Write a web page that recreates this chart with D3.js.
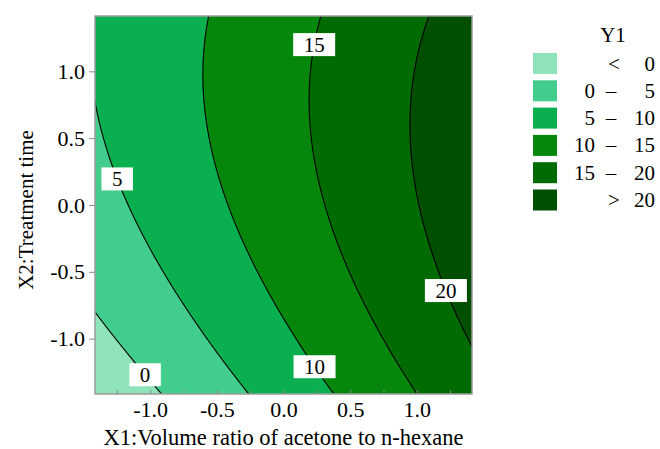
<!DOCTYPE html>
<html>
<head>
<meta charset="utf-8">
<script src="https://cdn.jsdelivr.net/npm/d3@7"></script>
<style>
  html, body { margin: 0; padding: 0; background: #fff; }
  svg { display: block; font-family: "Liberation Serif", "Times New Roman", serif; }
</style>
</head>
<body>
<svg id="chart" width="660" height="449"></svg>
<script>
// Second-order response surface for Y1 in coded units:
// Y1 = b0 + b1*X1 + b2*X2 + b12*X1*X2 + b11*X1^2 + b22*X2^2
const termNames = ["b0", "b1 (X1)", "b2 (X2)", "b12 (X1*X2)", "b11 (X1^2)", "b22 (X2^2)"];
const termCoefs = [12.85, 6.9, 2.22, -0.65, 0.14, -1.34];

// Contour levels and band colours (lowest band first)
const levels = [0, 5, 10, 15, 20];
const bandColors = ["#8ee4b8", "#42cd8c", "#0ab04f", "#05870b", "#006b00", "#004e00"];

// Legend rows
const legendLow  = ["", "0", "5", "10", "15", ""];
const legendSign = ["<", "\u2013", "\u2013", "\u2013", "\u2013", ">"];
const legendHigh = ["0", "5", "10", "15", "20", "20"];

// Where each contour carries its value label (X2 coordinate on that contour)
const labelLevels = [0, 5, 10, 15, 20];
const labelAtX2   = [-1.27, 0.195, -1.21, 1.2, -0.64];

// Axes
const axisRange   = [-1.414, 1.414];
const xMajorTicks = [-1.0, -0.5, 0.0, 0.5, 1.0];
const xMinorTicks = [-1.25, -0.75, -0.25, 0.25, 0.75, 1.25];
const yTicks      = [-1.0, -0.5, 0.0, 0.5, 1.0];
const xTitle = "X1:Volume ratio of acetone to n-hexane";
const yTitle = "X2:Treatment time";
const legendTitle = "Y1";

const plot = { left: 95, top: 16, right: 472, bottom: 394 };

const svg = d3.select("#chart");
const x = d3.scaleLinear().domain(axisRange).range([plot.left, plot.right]);
const y = d3.scaleLinear().domain(axisRange).range([plot.bottom, plot.top]);

function y1(x1, x2) {
  const [b0, b1, b2, b12, b11, b22] = termCoefs;
  return b0 + b1 * x1 + b2 * x2 + b12 * x1 * x2 + b11 * x1 * x1 + b22 * x2 * x2;
}

// Evaluate the surface on a grid a little wider than the axes so the
// grid border falls outside the clipped plot area.
const g0 = -1.6, step = 0.01, n = 321;
const values = new Float64Array(n * n);
for (let j = 0; j < n; j++) {
  const x2 = g0 + j * step;
  for (let i = 0; i < n; i++) values[j * n + i] = y1(g0 + i * step, x2);
}
const bands = d3.contours().size([n, n]).thresholds(levels)(values);

const gridToScreen = d3.geoTransform({
  point(px, py) {
    this.stream.point(x(g0 + (px - 0.5) * step), y(g0 + (py - 0.5) * step));
  }
});
const path = d3.geoPath(gridToScreen);

svg.append("clipPath").attr("id", "plot-clip")
  .append("rect")
  .attr("x", plot.left).attr("y", plot.top)
  .attr("width", plot.right - plot.left).attr("height", plot.bottom - plot.top);

const area = svg.append("g").attr("clip-path", "url(#plot-clip)");

area.append("rect")
  .attr("x", plot.left).attr("y", plot.top)
  .attr("width", plot.right - plot.left).attr("height", plot.bottom - plot.top)
  .attr("fill", bandColors[0]);

area.selectAll("path.band").data(bands).join("path")
  .attr("class", "band")
  .attr("d", path)
  .attr("fill", (d, i) => bandColors[i + 1]);

area.selectAll("path.line").data(bands).join("path")
  .attr("class", "line")
  .attr("d", path)
  .attr("fill", "none")
  .attr("stroke", "#000")
  .attr("stroke-width", 1.1);

// Contour value labels: solve the surface for X1 at the chosen X2
function x1OnContour(level, x2) {
  const [b0, b1, b2, b12, b11, b22] = termCoefs;
  const a = b11, b = b1 + b12 * x2, c = b0 + b2 * x2 + b22 * x2 * x2 - level;
  if (Math.abs(a) < 1e-9) return -c / b;
  return (-b + Math.sqrt(b * b - 4 * a * c)) / (2 * a);
}

const labelG = area.append("g").attr("font-size", 21);
labelLevels.forEach((lv, k) => {
  const cx = x(x1OnContour(lv, labelAtX2[k]));
  const cy = y(labelAtX2[k]);
  const g = labelG.append("g");
  const rect = g.append("rect").attr("fill", "#fff");
  const t = g.append("text")
    .attr("x", cx).attr("y", cy + 7)
    .attr("text-anchor", "middle")
    .attr("fill", "#000")
    .text(String(lv));
  const w = t.node().getComputedTextLength() + 21;
  rect.attr("x", cx - w / 2).attr("y", cy - 11.5).attr("width", w).attr("height", 23);
});

// Plot frame
svg.append("rect")
  .attr("x", plot.left).attr("y", plot.top)
  .attr("width", plot.right - plot.left).attr("height", plot.bottom - plot.top)
  .attr("fill", "none").attr("stroke", "#9c9c9c").attr("stroke-width", 1.5);

// Axes (plain hyphen for negative tick labels)
const fmt = d => d3.format(".1f")(d).replace("\u2212", "-");
const yAxis = svg.append("g")
  .attr("transform", `translate(${plot.left},0)`)
  .call(d3.axisLeft(y).tickValues(yTicks).tickFormat(fmt).tickSizeInner(6).tickSizeOuter(0).tickPadding(4));
const xAxis = svg.append("g")
  .attr("transform", `translate(0,${plot.bottom})`)
  .call(d3.axisBottom(x).tickValues(xMajorTicks).tickFormat(fmt).tickSizeInner(-4).tickSizeOuter(0).tickPadding(7));
const xMinor = svg.append("g")
  .attr("transform", `translate(0,${plot.bottom})`)
  .call(d3.axisBottom(x).tickValues(xMinorTicks).tickFormat("").tickSizeInner(-4).tickSizeOuter(0));

[yAxis, xAxis, xMinor].forEach(a => {
  a.select(".domain").remove();
  a.attr("font-family", null).attr("font-size", 22);
  a.selectAll(".tick line").attr("stroke", "#8a8a8a");
  a.selectAll(".tick text").attr("fill", "#000");
});

svg.append("text")
  .attr("x", (plot.left + plot.right) / 2).attr("y", 445)
  .attr("text-anchor", "middle").attr("font-size", 22.5)
  .text(xTitle);

svg.append("text")
  .attr("transform", "translate(33,210) rotate(-90)")
  .attr("text-anchor", "middle").attr("font-size", 21)
  .text(yTitle);

// Legend
const legend = svg.append("g").attr("font-size", 21);
legend.append("text")
  .attr("x", 613).attr("y", 42)
  .attr("text-anchor", "middle")
  .text(legendTitle);

const rowY = d3.scaleLinear().domain([0, 5]).range([63.5, 200]);
bandColors.forEach((c, i) => {
  const cy = rowY(i);
  legend.append("rect")
    .attr("x", 533).attr("y", cy - 10.5)
    .attr("width", 24).attr("height", 21)
    .attr("fill", c);
  legend.append("text").attr("x", 595).attr("y", cy + 7)
    .attr("text-anchor", "end").text(legendLow[i]);
  legend.append("text").attr("x", legendSign[i] === "\u2013" ? 611 : 614).attr("y", cy + 7)
    .attr("text-anchor", "middle").text(legendSign[i]);
  legend.append("text").attr("x", 655).attr("y", cy + 7)
    .attr("text-anchor", "end").text(legendHigh[i]);
});
</script>
</body>
</html>
